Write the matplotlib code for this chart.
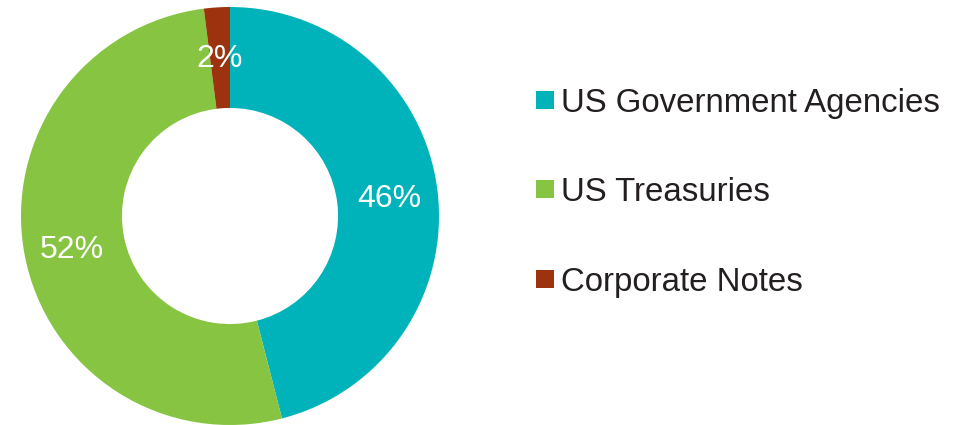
import matplotlib.pyplot as plt
from matplotlib.patches import Rectangle

# -------------------------------------------------------------------
labels = ['US Government Agencies', 'US Treasuries', 'Corporate Notes']
shares = [46, 52, 2]
colors = ['#00B2BA', '#86C441', '#9C330E']

plt.rcParams['font.family'] = ['Liberation Sans', 'DejaVu Sans']

W, H = 966, 425
fig = plt.figure(figsize=(W / 100, H / 100), dpi=100)

# donut: centre (230, 216) px, outer radius 209 px
cx, cy, r = 230, 216, 209
ax = fig.add_axes([(cx - r) / W, (H - cy - r) / H, 2 * r / W, 2 * r / H])
wedges, texts, autotexts = ax.pie(shares, colors=colors, startangle=90,
                                  counterclock=False, radius=1.0,
                                  autopct='%d%%', pctdistance=0.77,
                                  wedgeprops=dict(width=0.483, linewidth=0),
                                  textprops=dict(color='white', fontsize=23))
for t in autotexts:
    t.set_va('center_baseline')
ax.set_xlim(-1, 1)
ax.set_ylim(-1, 1)
ax.set_aspect('equal')

# legend drawn by hand
row_y = [100, 189, 279]
for lab, col, y in zip(labels, colors, row_y):
    fig.add_artist(Rectangle((536 / W, (H - y - 9) / H), 18 / W, 18 / H,
                             transform=fig.transFigure, color=col, lw=0))
    fig.text(561 / W, (H - y) / H, lab, fontsize=23.8, color='#231F20',
             va='center_baseline', ha='left')

plt.savefig('out.png', dpi=100)
plt.close()
